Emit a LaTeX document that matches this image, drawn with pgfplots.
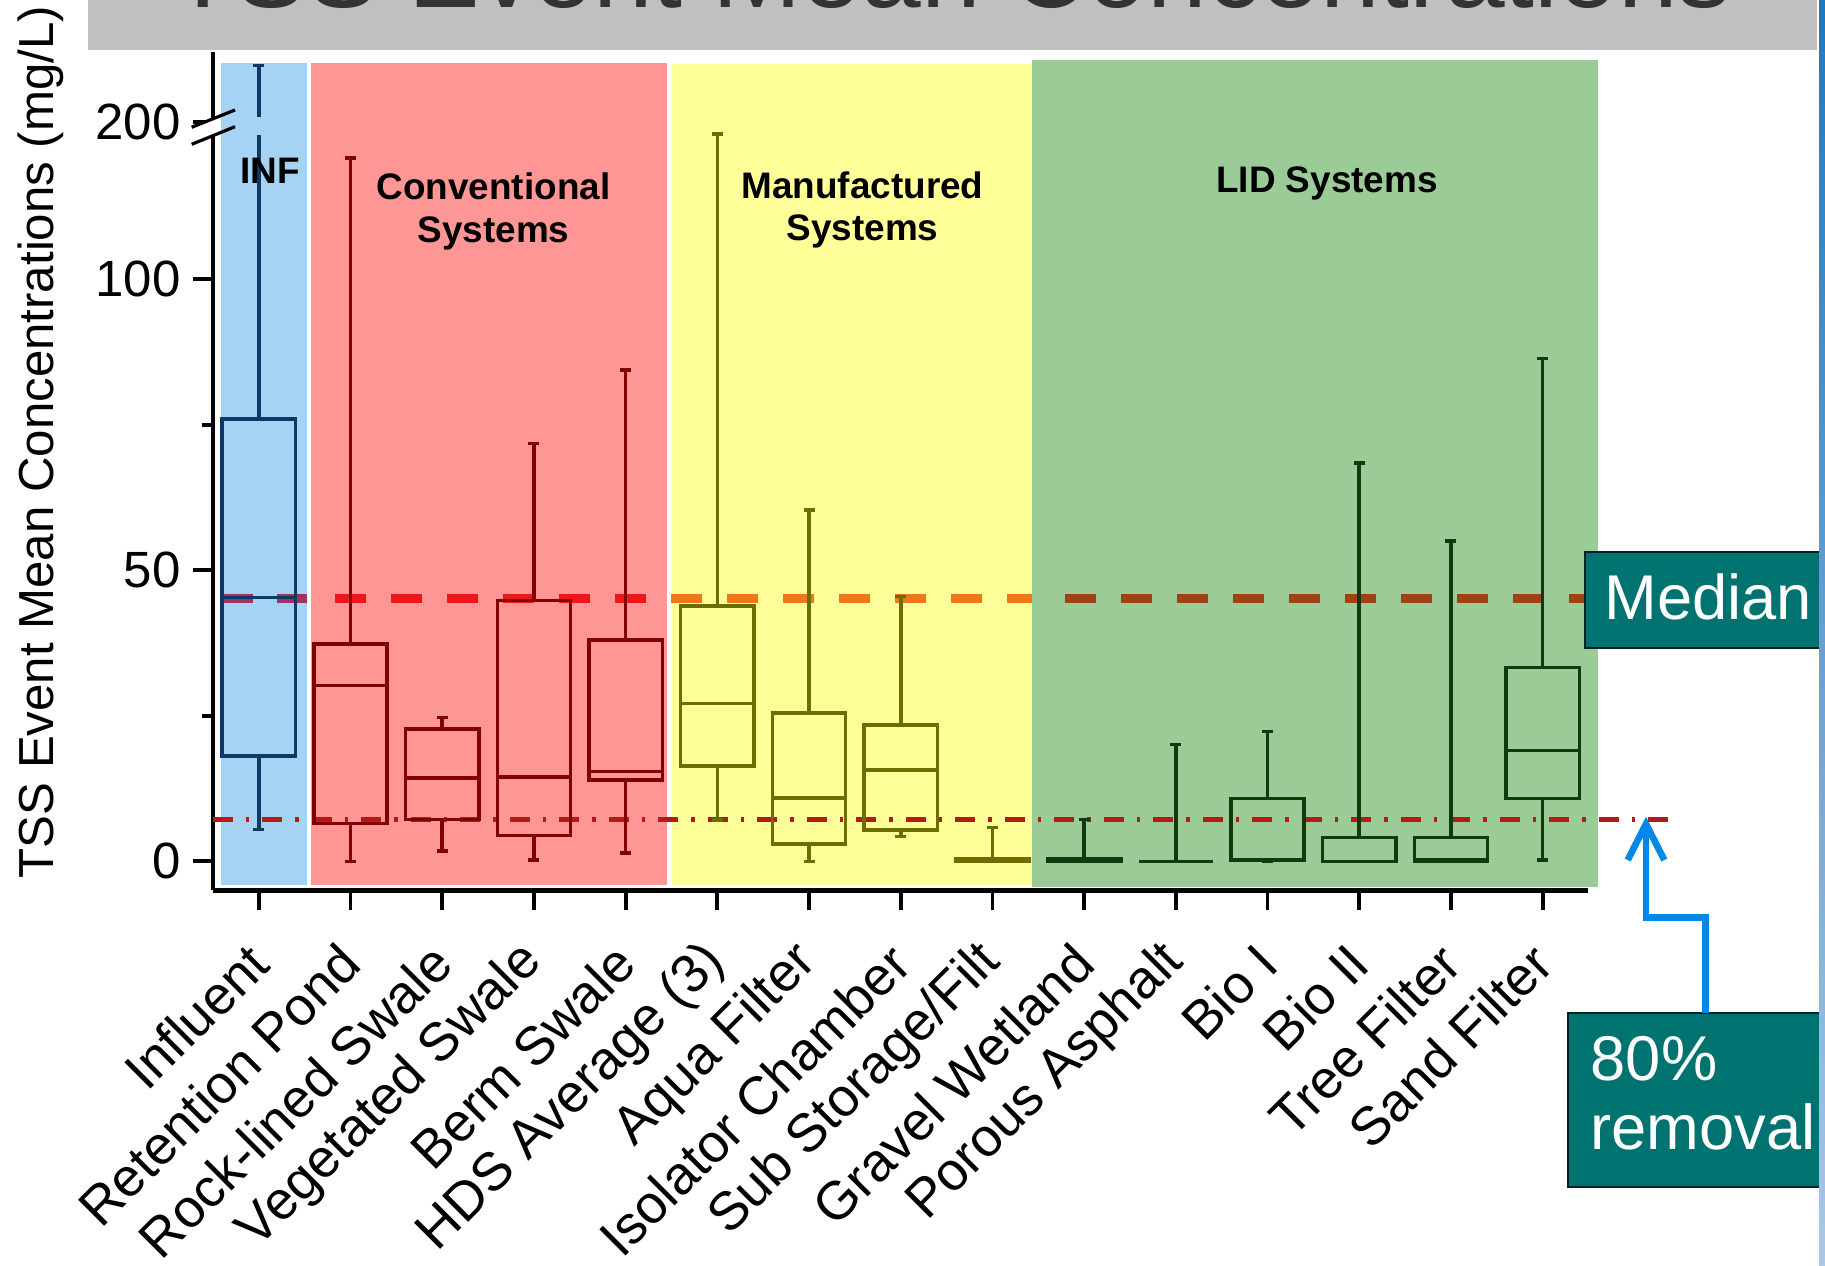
\documentclass[border=0pt]{standalone}
\usepackage{pgfplots}
\pgfplotsset{compat=1.18}
\usepgfplotslibrary{statistics}
\usepackage{fontspec}
\setmainfont{Liberation Sans}
\definecolor{bgblue}{RGB}{166,211,244}
\definecolor{bgred}{RGB}{255,150,150}
\definecolor{bgyellow}{RGB}{255,255,153}
\definecolor{bggreen}{RGB}{155,204,152}
\definecolor{cinf}{RGB}{16,56,100}
\definecolor{cconv}{RGB}{130,0,0}
\definecolor{cman}{RGB}{110,110,0}
\definecolor{clid}{RGB}{15,60,15}
\definecolor{tealbox}{RGB}{0,115,112}
\definecolor{medblue}{RGB}{155,52,95}
\definecolor{medred}{RGB}{236,24,24}
\definecolor{medorange}{RGB}{240,120,24}
\definecolor{medbrown}{RGB}{160,66,14}
\definecolor{remred}{RGB}{184,24,24}
\definecolor{arrowblue}{RGB}{0,136,230}
\definecolor{titlegray}{RGB}{192,192,192}

\begin{document}
\begin{tikzpicture}[x=0.1mm,y=0.1mm]
\useasboundingbox (0,0) rectangle (1825,1265);
\fill[white] (0,0) rectangle (1825,1265);
% title banner (cut off at the top)
\begin{scope}
\clip (0,0) rectangle (1825,1265);
\fill[titlegray] (88,1215) rectangle (1817,1265);
\node[anchor=base, font=\fontsize{30.5}{30.5}\selectfont, text=black!80, inner sep=0pt] at (951,1257) {TSS Event Mean Concentrations};
\end{scope}

\begin{axis}[
  at={(21.3mm,37.46mm)}, anchor=south west,
  scale only axis, width=137.55mm, height=83.81mm,
  xmin=-0.5, xmax=14.5, ymin=-5, ymax=139,
  clip=false,
  axis x line*=bottom, axis y line*=left,
  axis line style={line width=1.2pt, -},
  xtick={0,...,14},
  xticklabels={Influent, Retention Pond, Rock-lined Swale, Vegetated Swale, Berm Swale, HDS Average (3), Aqua Filter, Isolator Chamber, Sub Storage/Filt, Gravel Wetland, Porous Asphalt, Bio I, Bio II, Tree Filter, Sand Filter},
  ytick={0,50,100,127}, yticklabels={0,50,100,200},
  minor ytick={25,75},
  tick align=outside,
  major tick length=2mm, minor tick length=1.1mm,
  tick style={line width=1.1pt, black},
  yticklabel style={font=\fontsize{14.5}{14.5}\selectfont},
  xticklabel style={font=\fontsize{15.3}{15.3}\selectfont, rotate=45, anchor=east, inner sep=0pt},
  xticklabel shift=4.3mm,
  boxplot/draw direction=y,
]
% group backgrounds
\fill[bgblue] (axis cs:-0.41,-4.0) rectangle (axis cs:0.526,137.1);
\fill[bgred] (axis cs:0.566,-4.0) rectangle (axis cs:4.451,137.1);
\fill[bgyellow] (axis cs:4.502,-4.0) rectangle (axis cs:8.432,137.0);
\fill[bggreen] (axis cs:8.432,-4.4) rectangle (axis cs:14.6,137.6);
% median reference line
\draw[medblue, line width=2.6pt, dash pattern=on 3.2mm off 2.4mm] (axis cs:-0.41,45.2) -- (axis cs:0.53,45.2);
\draw[medred, line width=2.6pt, dash pattern=on 3.1mm off 2.5mm] (axis cs:0.83,45.2) -- (axis cs:4.45,45.2);
\draw[medorange, line width=2.6pt, dash pattern=on 3.1mm off 2.5mm] (axis cs:4.50,45.2) -- (axis cs:8.43,45.2);
\draw[medbrown, line width=2.6pt, dash pattern=on 3.1mm off 2.5mm] (axis cs:8.79,45.2) -- (axis cs:14.46,45.2);
% 80% removal line
\draw[remred, line width=1.3pt, dash pattern=on 2mm off 1.3mm on 0.35mm off 1.3mm] (axis cs:-0.5,7.2) -- (axis cs:15.47,7.2);

\pgfplotsset{boxplot/box extend=0.8, boxplot/whisker extend=0.12}
% Influent
\addplot[cinf, line width=1pt, boxplot prepared={draw position=0, lower whisker=5.5, lower quartile=18.1, median=45.3, upper quartile=76, upper whisker=136.7}] coordinates {};
% Conventional systems
\addplot[cconv, line width=1pt, boxplot prepared={draw position=1, lower whisker=0, lower quartile=6.5, median=30.2, upper quartile=37.3, upper whisker=120.8}] coordinates {};
\addplot[cconv, line width=1pt, boxplot prepared={draw position=2, lower whisker=1.8, lower quartile=7.2, median=14.3, upper quartile=22.7, upper whisker=24.7}] coordinates {};
\addplot[cconv, line width=1pt, boxplot prepared={draw position=3, lower whisker=0.2, lower quartile=4.4, median=14.5, upper quartile=44.8, upper whisker=71.8}] coordinates {};
\addplot[cconv, line width=1pt, boxplot prepared={draw position=4, lower whisker=1.4, lower quartile=14.0, median=15.4, upper quartile=38.0, upper whisker=84.4}] coordinates {};
% Manufactured systems
\addplot[cman, line width=1pt, boxplot prepared={draw position=5, lower whisker=7.1, lower quartile=16.4, median=27.1, upper quartile=43.9, upper whisker=125.0}] coordinates {};
\addplot[cman, line width=1pt, boxplot prepared={draw position=6, lower whisker=0, lower quartile=3.0, median=10.9, upper quartile=25.5, upper whisker=60.4}] coordinates {};
\addplot[cman, line width=1pt, boxplot prepared={draw position=7, lower whisker=4.3, lower quartile=5.4, median=15.7, upper quartile=23.4, upper whisker=45.5}] coordinates {};
\addplot[cman, line width=1pt, boxplot prepared={draw position=8, lower whisker=0, lower quartile=0, median=0.2, upper quartile=0.5, upper whisker=5.8}] coordinates {};
% LID systems
\addplot[clid, line width=1pt, boxplot prepared={draw position=9, lower whisker=0, lower quartile=0, median=0.2, upper quartile=0.5, upper whisker=7.2}] coordinates {};
\addplot[clid, line width=1pt, boxplot prepared={draw position=10, lower whisker=0, lower quartile=0, median=0, upper quartile=0, upper whisker=20.1}] coordinates {};
\addplot[clid, line width=1pt, boxplot prepared={draw position=11, lower whisker=0, lower quartile=0.2, median=0.3, upper quartile=10.8, upper whisker=22.3}] coordinates {};
\addplot[clid, line width=1pt, boxplot prepared={draw position=12, lower whisker=0, lower quartile=0, median=0, upper quartile=4.1, upper whisker=68.4}] coordinates {};
\addplot[clid, line width=1pt, boxplot prepared={draw position=13, lower whisker=0, lower quartile=0, median=0.3, upper quartile=4.1, upper whisker=55.0}] coordinates {};
\addplot[clid, line width=1pt, boxplot prepared={draw position=14, lower whisker=0.2, lower quartile=10.8, median=19.0, upper quartile=33.3, upper whisker=86.4}] coordinates {};
\end{axis}

% axis break
\fill[bgblue] (254,1130) rectangle (263,1148);
\fill[white] (205,1143) -- (220,1149) -- (220,1132.1) -- (205,1126.1) -- cycle;
\draw[black, line width=0.9pt] (191.7,1137.7) -- (235,1155);
\draw[black, line width=0.9pt] (191.7,1120.7) -- (235,1138.3);

% y label
\node[rotate=90, font=\fontsize{14}{14}\selectfont] at (40.7,823) {TSS Event Mean Concentrations (mg/L)};

% group labels
\node[font=\fontsize{10.5}{10.5}\selectfont\bfseries] at (270,1094) {INF};
\node[font=\fontsize{10.5}{10.5}\selectfont\bfseries] at (493.5,1079) {Conventional};
\node[font=\fontsize{10.5}{10.5}\selectfont\bfseries] at (493.5,1032) {Systems};
\node[font=\fontsize{10.5}{10.5}\selectfont\bfseries] at (862.5,1080) {Manufactured};
\node[font=\fontsize{10.5}{10.5}\selectfont\bfseries] at (862.5,1034) {Systems};
\node[font=\fontsize{10.5}{10.5}\selectfont\bfseries] at (1327,1082) {LID Systems};

% callouts
\fill[tealbox, draw=black!70!tealbox, line width=0.4pt] (1585,617) rectangle (1835,713);
\node[anchor=west, text=white, font=\fontsize{18}{18}\selectfont, inner sep=0pt] at (1604,668) {Median};
\fill[tealbox, draw=black!70!tealbox, line width=0.4pt] (1568,78) rectangle (1835,252);
\node[anchor=base west, text=white, font=\fontsize{18}{18}\selectfont, inner sep=0pt] at (1590,185) {80\%};
\node[anchor=base west, text=white, font=\fontsize{18}{18}\selectfont, inner sep=0pt] at (1590,116) {removal};
\draw[arrowblue, line width=1.9pt] (1705.7,252) -- (1705.7,347.4) -- (1646,347.4) -- (1646,436);
\draw[arrowblue, line width=1.9pt] (1627.7,405) -- (1646,441) -- (1664.3,405);
\shade[top color={rgb,255:red,30;green,120;blue,190}, bottom color={rgb,255:red,170;green,200;blue,232}] (1819,0) rectangle (1825,1265);
\end{tikzpicture}
\end{document}
